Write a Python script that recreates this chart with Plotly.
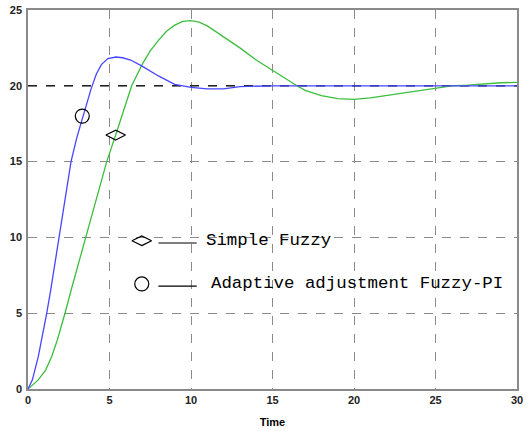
import plotly.graph_objects as go

# Adaptive adjustment Fuzzy-PI (blue)
t_adaptive = [0, 0.27, 0.63, 0.84, 1.15, 1.39, 1.9, 2.3, 2.64, 3.0, 3.33, 3.56, 3.87, 4.2, 4.5,
              4.9, 5.4, 5.8, 6.3, 7.0, 8.0, 9.0, 10, 11, 12, 13, 15, 20, 25, 30]
y_adaptive = [0, 0.6, 2.13, 3.23, 5.0, 6.5, 10.0, 12.7, 15.0, 16.6, 17.8, 18.6, 19.8, 20.8, 21.4,
              21.8, 21.9, 21.85, 21.7, 21.3, 20.65, 20.1, 19.9, 19.8, 19.8, 19.95, 20.0, 20.0, 20.0, 20.0]

# Simple Fuzzy (green)
t_simple = [0, 0.63, 1.08, 1.45, 1.8, 2.1, 2.27, 2.64, 3.0, 3.56, 4.2, 4.83, 5.38, 5.9, 6.36, 7.05, 7.5,
            8.0, 8.5, 9.0, 9.5, 10.0, 10.5, 11, 12, 13, 14, 15, 16, 16.5, 17, 18, 19, 20,
            21, 22, 23, 24, 25, 26, 27, 28, 29, 30]
y_simple = [0, 0.6, 1.25, 2.13, 3.23, 4.33, 5.0, 6.5, 7.9, 10.0, 12.5, 15.0, 16.75, 18.5, 20.0, 21.5, 22.3,
            23.0, 23.6, 24.0, 24.25, 24.3, 24.2, 23.95, 23.25, 22.5, 21.7, 21.0, 20.35, 20.0, 19.7, 19.35, 19.15, 19.1,
            19.2, 19.35, 19.5, 19.7, 19.85, 20.0, 20.05, 20.15, 20.2, 20.23]

setpoint_t = [0, 30]
setpoint_y = [20, 20]

# marker points on curves
marker_adaptive = (3.33, 18.0)
marker_simple = (5.38, 16.75)

legend_labels = ["Simple Fuzzy", "Adaptive adjustment Fuzzy-PI"]

x_ticks = [0, 5, 10, 15, 20, 25, 30]
y_ticks = [0, 5, 10, 15, 20, 25]

fig = go.Figure()
fig.add_trace(go.Scatter(x=setpoint_t, y=setpoint_y, mode="lines",
                         line=dict(color="black", width=1.3, dash="dash"), showlegend=False))
fig.add_trace(go.Scatter(x=t_simple, y=y_simple, mode="lines",
                         line=dict(color="#3cbe3c", width=1.3), showlegend=False))
fig.add_trace(go.Scatter(x=t_adaptive, y=y_adaptive, mode="lines",
                         line=dict(color="#4646ff", width=1.3), showlegend=False))
fig.add_trace(go.Scatter(x=[marker_adaptive[0]], y=[marker_adaptive[1]], mode="markers",
                         marker=dict(symbol="circle-open", size=14, color="black", line=dict(width=1.2)),
                         showlegend=False))
fig.add_trace(go.Scatter(x=[marker_simple[0]], y=[marker_simple[1]], mode="markers",
                         marker=dict(symbol="diamond-wide-open", size=14, color="black", line=dict(width=1.2)),
                         showlegend=False))

# in-plot legend
leg_x = 6.98
leg_rows = [(9.78, "diamond-wide-open", 14, "#555555"), (6.93, "circle-open", 14, "black")]
for (ly, sym, sz, lc), lab in zip(leg_rows, legend_labels):
    fig.add_trace(go.Scatter(x=[leg_x], y=[ly], mode="markers",
                             marker=dict(symbol=sym, size=sz, color="black", line=dict(width=1.2)),
                             showlegend=False))
    fig.add_shape(type="line", x0=8.0, x1=10.35, y0=ly - 0.15, y1=ly - 0.15,
                  line=dict(color=lc, width=1.3))
fig.add_annotation(x=10.8, y=9.78, text=legend_labels[0], showarrow=False, xanchor="left",
                   yanchor="middle", font=dict(family="Liberation Mono", size=17.4, color="black"))
fig.add_annotation(x=11.1, y=6.93, text=legend_labels[1], showarrow=False, xanchor="left",
                   yanchor="middle", font=dict(family="Liberation Mono", size=17.4, color="black"))

axis_common = dict(showline=True, mirror=True, linecolor="#8a8a8a", linewidth=1.5,
                   showgrid=True, gridcolor="#8a8a8a", griddash="dash", gridwidth=1,
                   zeroline=False, ticks="", automargin=False,
                   tickfont=dict(family="Arial", size=11, color="#222222", weight="bold"))

fig.update_layout(
    width=531, height=431,
    margin=dict(l=28, r=14, t=10, b=42),
    plot_bgcolor="white", paper_bgcolor="white",
    xaxis=dict(range=[0, 30], tickvals=x_ticks, ticktext=[str(v) for v in x_ticks],
               title=dict(text="<b>Time</b>", font=dict(family="Arial", size=11, color="black"), standoff=13),
               **axis_common),
    yaxis=dict(range=[0, 25], tickvals=y_ticks, ticktext=[str(v) for v in y_ticks], ticklabelstandoff=2,
               **axis_common),
)

fig.write_html("out.html", config={"displayModeBar": False},
               post_script="document.body.style.margin='0px';")
